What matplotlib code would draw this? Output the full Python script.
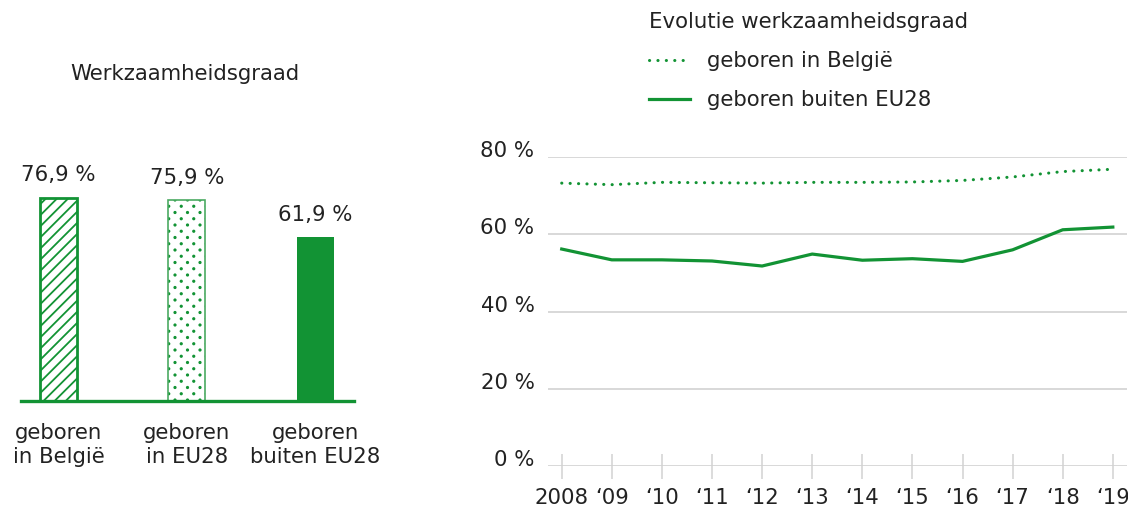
import matplotlib
matplotlib.use("Agg")
import numpy as np
import matplotlib.pyplot as plt
import matplotlib.hatch as mhatch
from matplotlib.path import Path
from matplotlib.lines import Line2D

# ---- data ----
bar_categories = ["geboren\nin België", "geboren\nin EU28", "geboren\nbuiten EU28"]
bar_values = [76.9, 75.9, 61.9]

years = [2008, 2009, 2010, 2011, 2012, 2013, 2014, 2015, 2016, 2017, 2018, 2019]
year_labels = ["2008", "\u201809", "\u201810", "\u201811", "\u201812", "\u201813",
               "\u201814", "\u201815", "\u201816", "\u201817", "\u201818", "\u201819"]
born_belgium = [73.3, 72.9, 73.5, 73.4, 73.3, 73.5, 73.5, 73.6, 74.0, 74.9, 76.3, 76.9]
born_outside_eu28 = [56.2, 53.4, 53.4, 53.1, 51.8, 54.9, 53.3, 53.7, 53.0, 56.0, 61.2, 61.9]
y_ticks = [0, 20, 40, 60, 80]
y_ticklabels = ["0 %", "20 %", "40 %", "60 %", "80 %"]

GREEN = "#129334"
LIGHT_GREEN = "#4caa62"
GRID = "#d2d2d2"
TEXT = "#222222"
FS = 15.3


# staggered dot hatch (columns twice as far apart as rows)
class StaggeredDots(mhatch.HatchPatternBase):
    def __init__(self, hatch, density):
        n = hatch.count('.') * 4
        self.ncols = n
        self.nrows = 2 * n
        self.filled = True
        circ = Path.unit_circle()
        self.shape_vertices = circ.vertices
        self.shape_codes = circ.codes
        if n == 0:
            self.num_shapes = 0
        else:
            self.num_shapes = ((self.nrows // 2 + 1) * (self.ncols + 1)
                               + (self.nrows // 2) * self.ncols)
        self.num_vertices = self.num_shapes * len(self.shape_vertices)

    def set_vertices_and_codes(self, vertices, codes):
        r = 0.009
        sv = self.shape_vertices * r
        vparts, cparts = [], []
        for row in range(self.nrows + 1):
            if row % 2 == 0:
                cols = np.linspace(0, 1, self.ncols + 1)
            else:
                cols = (np.arange(self.ncols) + 0.5) / self.ncols
            rp = row / self.nrows
            for cp in cols:
                vparts.append(sv + [cp, rp])
                cparts.append(self.shape_codes)
        np.concatenate(vparts, out=vertices)
        np.concatenate(cparts, out=codes)


mhatch._hatch_types = [StaggeredDots if t is mhatch.SmallFilledCircles else t
                       for t in mhatch._hatch_types]

plt.rcParams["font.family"] = ["DejaVu Sans"]
plt.rcParams["text.color"] = TEXT
plt.rcParams["hatch.linewidth"] = 1.3

W, H = 1128, 507
fig = plt.figure(figsize=(W / 100, H / 100), dpi=100)

# ---- bar chart ----
ax1 = fig.add_axes([20.7 / W, (H - 401) / H, (354 - 20.7) / W, 264.4 / H])
x = list(range(len(bar_values)))
hatches = ["///", "..", None]
edgecols = [GREEN, LIGHT_GREEN, GREEN]
facecols = ["white", "white", GREEN]
lws = [2.0, 1.2, 0]
for i in x:
    b = ax1.bar(x[i], bar_values[i], width=0.288, color=facecols[i],
                edgecolor=edgecols[i], hatch=hatches[i], linewidth=lws[i],
                zorder=2)
    if i == 1:
        for p in b:
            p.set_hatch_linewidth(1.0)
            p._hatch_color = matplotlib.colors.to_rgba(GREEN)
    ax1.bar_label(b, labels=[f"{bar_values[i]:.1f}".replace(".", ",") + " %"],
                  padding=9, fontsize=FS, color=TEXT)
ax1.set_xlim(-0.294, 2.3)
ax1.set_ylim(0, 100)
for s in ["top", "right", "left"]:
    ax1.spines[s].set_visible(False)
ax1.spines["bottom"].set_color(GREEN)
ax1.spines["bottom"].set_linewidth(2.4)
ax1.spines["bottom"].set_zorder(3)
ax1.set_yticks([])
ax1.set_xticks(x)
ax1.set_xticklabels(bar_categories, fontsize=FS, color=TEXT, linespacing=1.25)
ax1.tick_params(axis="x", length=0, pad=16)
fig.text(70 / W, 1 - 80 / H, "Werkzaamheidsgraad", fontsize=FS, color=TEXT,
         ha="left", va="baseline")

# ---- line chart ----
ax2 = fig.add_axes([548.3 / W, (H - 465.7) / H, (1127 - 548.3) / W, 308.4 / H])
ax2.plot(years, born_belgium, color=GREEN, linewidth=2.2,
         linestyle=(0, (0.05, 2.7)), dash_capstyle="round", zorder=3)
ax2.plot(years, born_outside_eu28, color=GREEN, linewidth=2.3, zorder=3)
ax2.set_xlim(2007.7325, 2019.283)
ax2.set_ylim(0, 80)
for s in ax2.spines.values():
    s.set_visible(False)
ax2.set_yticks(y_ticks)
ax2.set_yticklabels(y_ticklabels, fontsize=FS, color=TEXT)
for lab in ax2.get_yticklabels():
    lab.set_va("baseline")
ax2.tick_params(axis="y", length=0, pad=10)
ax2.grid(axis="y", color=GRID, linewidth=1.2, zorder=0)
ax2.set_xticks(years)
ax2.set_xticklabels(year_labels, fontsize=FS, color=TEXT)
ax2.tick_params(axis="x", direction="inout", length=18, width=1.1, color=GRID, pad=7)

leg_handles = [Line2D([], [], color=GREEN, linewidth=2.2, linestyle=(0, (0.05, 2.7)),
                      dash_capstyle="round"),
               Line2D([], [], color=GREEN, linewidth=2.3)]
leg = fig.legend(leg_handles, ["geboren in België", "geboren buiten EU28"],
                 loc="upper left", bbox_to_anchor=(649 / W, 1 - 12 / H),
                 frameon=False, fontsize=FS, title="Evolutie werkzaamheidsgraad",
                 title_fontsize=FS, alignment="left", borderpad=0, borderaxespad=0,
                 handlelength=1.95, handletextpad=0.8, labelspacing=0.9)
for t in leg.get_texts():
    t.set_color(TEXT)
leg.get_title().set_color(TEXT)

fig.savefig("out.png", dpi=100)
